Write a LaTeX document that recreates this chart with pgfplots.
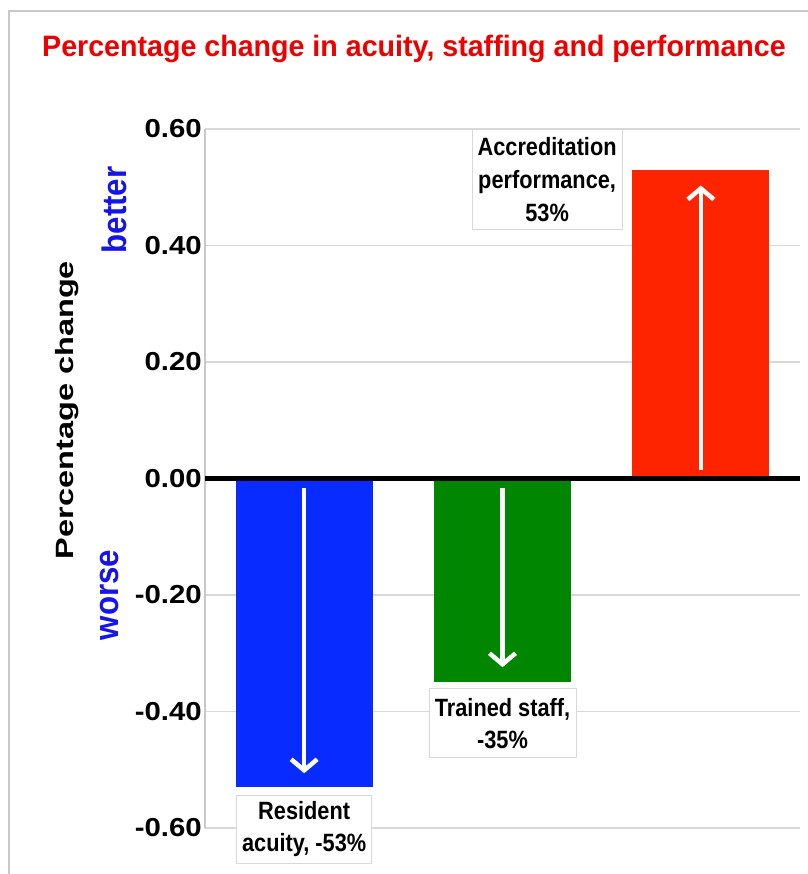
\documentclass[border=0pt]{standalone}
\usepackage{fontspec}
\setmainfont{Liberation Sans}
\newfontfamily\titlefont{Liberation Sans}[FakeStretch=0.97]
\newfontfamily\tickfont{Liberation Sans}[FakeStretch=1.13]
\newfontfamily\ylabfont{Liberation Sans}[FakeStretch=1.3]
\newfontfamily\bwfont{Liberation Sans}[FakeStretch=0.92]
\newfontfamily\labfont{Liberation Sans}[FakeStretch=0.87]
\usepackage{pgfplots}
\pgfplotsset{compat=1.18}
\usetikzlibrary{arrows.meta}
\definecolor{barblue}{RGB}{8,44,255}
\definecolor{bargreen}{RGB}{0,134,0}
\definecolor{barred}{RGB}{255,36,0}
\definecolor{titlered}{RGB}{236,0,0}
\definecolor{wblue}{RGB}{20,20,235}
\definecolor{gridgray}{RGB}{216,216,216}
\definecolor{framegray}{RGB}{200,200,200}
\begin{document}
\begin{tikzpicture}
\begin{axis}[
  at={(205bp,46bp)}, anchor=south west,
  scale only axis, width=595bp, height=699bp,
  xmin=-0.5, xmax=2.5, ymin=-0.6, ymax=0.6,
  axis x line=none, axis y line*=left,
  y axis line style={framegray, line width=1.5bp, -},
  ytick={-0.6,-0.4,-0.2,0,0.2,0.4,0.6},
  yticklabels={-0.60,-0.40,-0.20,0.00,0.20,0.40,0.60},
  yticklabel style={font=\tickfont\bfseries\fontsize{26bp}{28bp}\selectfont, anchor=east, inner sep=0pt, xshift=-3bp},
  major tick length=0pt,
  ymajorgrids, grid style={gridgray, line width=1.5bp},
  clip=false,
]
\addplot[ybar, bar width=137bp, bar shift=0pt, fill=barblue, draw=none] coordinates {(0,-0.53)};
\addplot[ybar, bar width=137bp, bar shift=0pt, fill=bargreen, draw=none] coordinates {(1,-0.35)};
\addplot[ybar, bar width=137bp, bar shift=0pt, fill=barred, draw=none] coordinates {(2,0.53)};
\draw[black, line width=4.5bp] (axis cs:-0.5,0) -- (axis cs:2.5,0);
\addplot[white, line width=4.5bp, -{Straight Barb[length=11bp,width=26bp,line width=4.5bp]},
  quiver={u=\thisrow{u}, v=\thisrow{v}}] table {
x y u v
0 -0.017 0 -0.489
1 -0.017 0 -0.307
2 0.014 0 0.489
};
\node[fill=white, draw=gridgray, line width=1bp, align=center, inner sep=0pt,
  font=\labfont\bfseries\fontsize{25bp}{32bp}\selectfont,
  minimum width=135bp, minimum height=68bp] at (axis cs:0,-0.6026) {Resident\\acuity, -53\%};
\node[fill=white, draw=gridgray, line width=1bp, align=center, inner sep=0pt,
  font=\labfont\bfseries\fontsize{25bp}{32bp}\selectfont,
  minimum width=147bp, minimum height=69bp] at (axis cs:1,-0.42) {Trained staff,\\-35\%};
\node[fill=white, draw=gridgray, line width=1bp, align=center, inner sep=0pt,
  font=\labfont\bfseries\fontsize{25bp}{33bp}\selectfont,
  minimum width=150bp, minimum height=100bp] at (axis cs:1.225,0.513) {Accreditation\\performance,\\53\%};
\end{axis}
\draw[framegray, line width=2bp] (9bp,0bp) -- (9bp,863bp) -- (808bp,863bp);
\node[anchor=base, text=titlered, font=\titlefont\bfseries\fontsize{29.5bp}{31bp}\selectfont] at (414bp,817bp) {Percentage change in acuity, staffing and performance};
\node[rotate=90, anchor=base, font=\ylabfont\bfseries\fontsize{25bp}{28bp}\selectfont] at (73bp,464bp) {Percentage change};
\node[rotate=90, anchor=base, text=wblue, font=\bwfont\bfseries\fontsize{34bp}{36bp}\selectfont] at (126bp,664bp) {better};
\node[rotate=90, anchor=base, text=wblue, font=\bwfont\bfseries\fontsize{34bp}{36bp}\selectfont] at (118bp,279bp) {worse};
\pgfresetboundingbox
\path[use as bounding box] (0bp,0bp) rectangle (808bp,874bp);
\end{tikzpicture}
\end{document}
